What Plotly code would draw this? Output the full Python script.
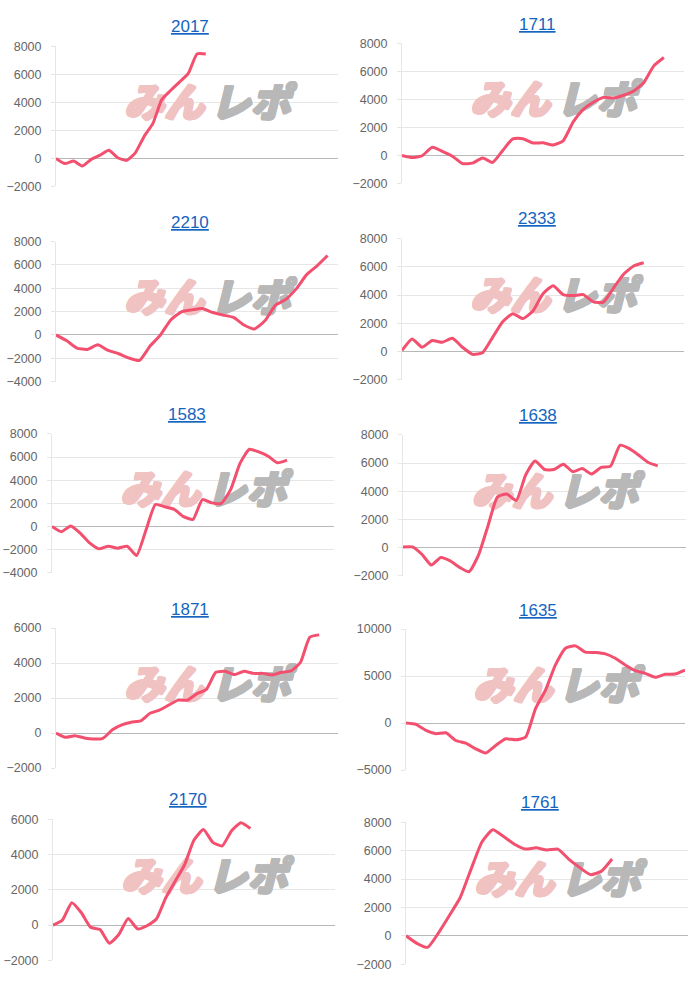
import plotly.graph_objects as go

# ---- data ----
titles = ["2017", "1711", "2210", "2333", "1583", "1638", "1871", "1635", "2170", "1761"]
n_categories = [33, 29, 28, 29, 31, 31, 31, 29, 31, 27]

values_2017 = [0, -370, -190, -540, -70, 230, 580, 50, -140, 400, 1570, 2500, 4200, 4850,
               5450, 6050, 7460, 7460]
values_1711 = [0, -150, -20, 580, 300, -50, -580, -550, -180, -500, 350, 1190, 1200, 890, 900,
               750, 1050, 2400, 3290, 3800, 4150, 4100, 4300, 4600, 5200, 6400, 7000]
values_2210 = [0, -480, -1130, -1240, -850, -1330, -1610, -1980, -2180, -960, 0, 1300, 1980,
               2150, 2260, 1920, 1700, 1500, 850, 510, 1210, 2540, 3050, 3950, 5170, 5930, 6810]
values_2333 = [70, 890, 300, 770, 650, 930, 300, -210, -90, 1000, 2100, 2680, 2330, 2870, 4100,
               4660, 4030, 3960, 4030, 3520, 3500, 4500, 5480, 6060, 6290]
values_1583 = [0, -450, 50, -570, -1420, -1930, -1700, -1870, -1700, -2500, -300, 1900, 1700,
               1480, 850, 620, 2330, 2040, 1990, 3180, 5450, 6670, 6440, 6070, 5500, 5730]
values_1638 = [50, 50, -470, -1240, -700, -940, -1400, -1710, -540, 1520, 3580, 3810, 3340,
               5150, 6150, 5540, 5540, 5920, 5380, 5610, 5220, 5690, 5780, 7260, 7020, 6550,
               6040, 5800]
values_1871 = [0, -240, -150, -280, -340, -300, 190, 470, 620, 690, 1130, 1310, 1600, 1880,
               1880, 2250, 2500, 3470, 3530, 3340, 3530, 3410, 3410, 3320, 3470, 3550, 4030,
               5480, 5610]
values_1635 = [0, -140, -790, -1140, -1040, -1860, -2140, -2750, -3180, -2390, -1680, -1790,
               -1500, 1540, 3500, 6180, 7960, 8210, 7540, 7500, 7360, 6890, 6180, 5570, 5290,
               4860, 5180, 5210, 5640]
values_2170 = [0, 280, 1270, 710, -130, -260, -1030, -540, 370, -220, -40, 340, 1550, 2490,
               3420, 4820, 5420, 4690, 4490, 5350, 5810, 5480]
values_1761 = [0, -530, -810, 210, 1430, 2700, 4700, 6610, 7470, 7000, 6450, 6110, 6200, 6040,
               6110, 5410, 4820, 4310, 4540, 5410]

y_tick_values = [
    [-2000, 0, 2000, 4000, 6000, 8000],
    [-2000, 0, 2000, 4000, 6000, 8000],
    [-4000, -2000, 0, 2000, 4000, 6000, 8000],
    [-2000, 0, 2000, 4000, 6000, 8000],
    [-4000, -2000, 0, 2000, 4000, 6000, 8000],
    [-2000, 0, 2000, 4000, 6000, 8000],
    [-2000, 0, 2000, 4000, 6000],
    [-5000, 0, 5000, 10000],
    [-2000, 0, 2000, 4000, 6000],
    [-2000, 0, 2000, 4000, 6000, 8000],
]
series = [values_2017, values_1711, values_2210, values_2333, values_1583,
          values_1638, values_1871, values_1635, values_2170, values_1761]
watermark_left = "みん"
watermark_right = "レポ"

# ---- layout (pixel boxes of plot areas) ----
W, H = 700, 986
boxes = [
    (56, 338, 40, 182), (402, 684, 37, 179),
    (56, 338, 238, 380), (402, 684, 235, 378),
    (52, 334, 433, 574), (403, 686, 434, 577),
    (56, 338, 630, 772), (406, 685, 631, 774),
    (53, 335, 824, 967), (406, 688, 827, 971),
]
title_pos = [(190, 20), (537, 18), (190, 219), (537, 215), (187, 413),
             (538, 414), (190, 611), (538, 612), (188, 804), (540, 807)]

LINE = "#f2506e"
PINK = "#f0c2c2"
GREY = "#b8b8b8"


def thick(c):
    return ", ".join(f"{dx}px {dy}px 0 {c}" for dx, dy in
                     [(1, 0), (-1, 0), (0, 1), (0, -1), (1, 1), (-1, -1), (1, -1), (-1, 1)])


fig = go.Figure()
layout = dict(width=W, height=H, margin=dict(l=0, r=0, t=0, b=0),
              paper_bgcolor="white", plot_bgcolor="white", showlegend=False,
              font=dict(family="Liberation Sans, Arial, sans-serif"))
annotations = []
for k in range(10):
    ax = "" if k == 0 else str(k + 1)
    x0, x1, y0, y1 = boxes[k]
    n = n_categories[k]
    ticks = y_tick_values[k]
    ymin, ymax = ticks[0], ticks[-1]
    layout["xaxis" + ax] = dict(domain=[x0 / W, x1 / W], range=[0, n - 1],
                                showgrid=False, zeroline=False, showline=False,
                                showticklabels=False, ticks="", anchor="y" + ax,
                                fixedrange=True)
    layout["yaxis" + ax] = dict(domain=[1 - y1 / H, 1 - y0 / H], range=[ymin, ymax],
                                tickvals=ticks, tickformat="d", showgrid=True,
                                gridcolor="#e6e6e6", gridwidth=1, zeroline=True,
                                zerolinecolor="#b8b8b8", zerolinewidth=1, showline=True,
                                linecolor="#e6e6e6", ticks="outside", ticklen=4,
                                tickcolor="#e6e6e6",
                                tickfont=dict(size=12.5, color="#666666"),
                                ticklabelstandoff=7, anchor="x" + ax, fixedrange=True)
    wy = ymin + (ymax - ymin) * 0.565
    # watermark (drawn under the line)
    for txt, fx, col in [(watermark_left, 0.384, PINK), (watermark_right, 0.69, GREY)]:
        fig.add_trace(go.Scatter(
            x=[(n - 1) * fx], y=[wy], mode="text", text=["<i>" + txt + "</i>"],
            textfont=dict(family="Noto Sans CJK JP", size=40, color=col, weight=900,
                          shadow=thick(col)),
            xaxis="x" + ax, yaxis="y" + ax, hoverinfo="skip", cliponaxis=False))
    fig.add_trace(go.Scatter(
        x=list(range(len(series[k]))), y=series[k], mode="lines",
        line=dict(color=LINE, width=3, shape="spline", smoothing=0.5),
        xaxis="x" + ax, yaxis="y" + ax, hoverinfo="skip", cliponaxis=False))
    tx, ty = title_pos[k]
    annotations.append(dict(text="<u>" + titles[k] + "</u>", x=tx / W, y=1 - ty / H,
                            xref="paper", yref="paper", xanchor="center", yanchor="middle",
                            showarrow=False,
                            font=dict(size=17, color="#1565c0",
                                      family="Liberation Sans, Arial, sans-serif")))
layout["annotations"] = annotations
fig.update_layout(**layout)
fig.write_html("out.html")
